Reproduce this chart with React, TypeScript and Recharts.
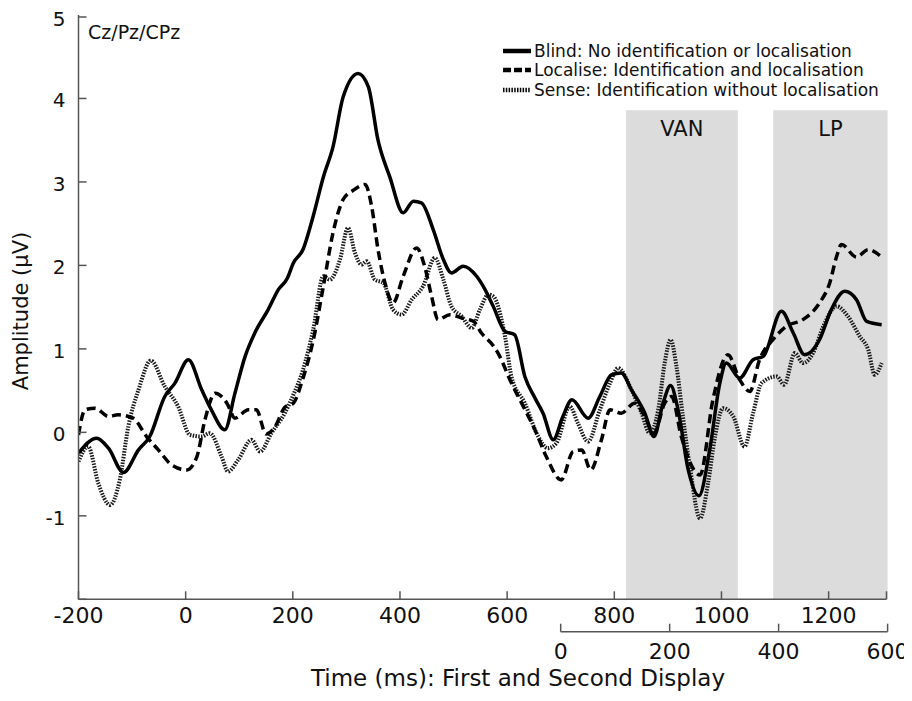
import React from "react";
import { LineChart, Line, XAxis, YAxis, ReferenceArea, ReferenceLine, Legend } from "recharts";

// ERP grand averages at Cz/Pz/CPz, time in ms from first display onset
const blindTimes = [-200, -166, -144, -116, -88, -67, -39, -20, 5, 30, 48, 73, 92, 111, 129, 154, 173, 190, 201, 219, 238, 257, 275, 294, 322, 341, 359, 381, 406, 425, 440, 462, 481, 496, 518, 543, 558, 574, 596, 614, 633, 652, 667, 686, 704, 721, 751, 773, 795, 813, 832, 857, 874, 891, 905, 919, 938, 958, 978, 997, 1009, 1034, 1059, 1078, 1112, 1134, 1155, 1183, 1205, 1230, 1252, 1271, 1299];
const blindValues = [-0.25, -0.07, -0.19, -0.48, -0.21, -0.05, 0.43, 0.59, 0.87, 0.51, 0.27, 0.03, 0.47, 0.91, 1.19, 1.47, 1.71, 1.85, 2.03, 2.19, 2.59, 3.06, 3.42, 4.02, 4.3, 4.14, 3.5, 3.06, 2.63, 2.77, 2.75, 2.43, 2.07, 1.91, 1.99, 1.87, 1.72, 1.51, 1.21, 1.17, 0.67, 0.41, 0.23, -0.09, 0.19, 0.39, 0.17, 0.43, 0.69, 0.71, 0.51, 0.23, -0.05, 0.35, 0.56, 0.27, -0.45, -0.76, -0.21, 0.59, 0.83, 0.65, 0.87, 0.91, 1.45, 1.19, 0.93, 1.11, 1.47, 1.69, 1.59, 1.33, 1.29];

const localiseTimes = [-200, -188, -169, -144, -126, -98, -73, -51, -26, 2, 21, 36, 55, 77, 92, 117, 132, 150, 167, 185, 201, 219, 238, 257, 275, 294, 313, 335, 347, 359, 372, 387, 406, 431, 446, 459, 471, 493, 515, 537, 552, 575, 583, 608, 627, 652, 673, 701, 723, 739, 756, 776, 792, 813, 838, 857, 874, 894, 907, 925, 960, 984, 1012, 1034, 1053, 1071, 1096, 1121, 1152, 1183, 1202, 1215, 1224, 1252, 1274, 1299];
const localiseValues = [-0.03, 0.27, 0.29, 0.19, 0.21, 0.17, -0.05, -0.21, -0.39, -0.45, -0.29, 0.15, 0.47, 0.35, 0.17, 0.27, 0.27, -0.02, 0.07, 0.3, 0.35, 0.65, 1.1, 1.75, 2.39, 2.79, 2.9, 2.97, 2.71, 2.19, 1.79, 1.55, 1.87, 2.21, 1.99, 1.63, 1.35, 1.41, 1.37, 1.33, 1.19, 1.03, 0.95, 0.59, 0.35, 0.03, -0.29, -0.57, -0.23, -0.21, -0.45, -0.09, 0.27, 0.23, 0.35, 0.19, -0.01, 0.35, 0.43, -0.05, -0.51, 0.39, 0.93, 0.63, 0.49, 0.87, 1.11, 1.27, 1.35, 1.55, 1.79, 2.11, 2.25, 2.1, 2.19, 2.1];

const senseTimes = [-200, -182, -163, -141, -123, -107, -88, -65, -39, -14, 8, 30, 45, 67, 79, 98, 123, 139, 160, 185, 201, 219, 238, 257, 269, 288, 303, 316, 328, 338, 353, 369, 387, 403, 422, 443, 465, 481, 496, 515, 534, 549, 565, 574, 596, 608, 633, 658, 676, 692, 717, 732, 751, 773, 792, 807, 832, 851, 866, 882, 894, 905, 916, 928, 941, 960, 975, 988, 1003, 1022, 1043, 1059, 1075, 1103, 1117, 1137, 1152, 1171, 1190, 1215, 1236, 1258, 1274, 1286, 1299];
const senseValues = [-0.35, -0.17, -0.61, -0.87, -0.57, 0.07, 0.51, 0.86, 0.55, 0.31, -0.03, -0.05, -0.01, -0.29, -0.47, -0.33, -0.09, -0.23, -0.01, 0.23, 0.45, 0.75, 1.23, 1.87, 1.83, 2.07, 2.45, 2.15, 2.01, 2.05, 1.83, 1.79, 1.47, 1.41, 1.59, 1.75, 2.09, 1.83, 1.51, 1.39, 1.25, 1.47, 1.65, 1.63, 1.15, 0.67, 0.35, -0.05, -0.19, -0.13, 0.31, 0.11, -0.11, 0.27, 0.59, 0.77, 0.51, 0.23, -0.01, 0.27, 0.83, 1.11, 0.79, 0.19, -0.41, -1.03, -0.61, -0.05, 0.29, 0.19, -0.17, 0.23, 0.59, 0.67, 0.57, 0.95, 0.83, 0.95, 1.27, 1.51, 1.39, 1.15, 0.99, 0.69, 0.83];

const timeTicks = [-200, 0, 200, 400, 600, 800, 1000, 1200, 1308];
// second display time scale (ms from second display onset)
const secondTicks = [0, 200, 400, 600];
const ampTicks = [-2, -1, 0, 1, 2, 3, 4, 5];

// analysis windows, in ms from second display onset
const windowNames = ["VAN", "LP"];
const windowStart = [120, 390];
const windowEnd = [325, 600];
const windowTop = 3.86;

const SECOND_AXIS_Y = -2.388;
const FONT = "'DejaVu Sans', Verdana, sans-serif";
const AXIS = "#555";

const toPoints = (ts: number[], vs: number[]) => ts.map((t, i) => ({ t, v: vs[i] }));
const blind = toPoints(blindTimes, blindValues);
const localise = toPoints(localiseTimes, localiseValues);
const sense = toPoints(senseTimes, senseValues);
const secondScale = secondTicks.map((s) => ({ s }));

const legendItems = [
  { label: "Blind: No identification or localisation", dash: undefined, w: 4.5 },
  { label: "Localise: Identification and localisation", dash: "8 3", w: 4.5 },
  { label: "Sense: Identification without localisation", dash: "1.5 1.3", w: 4.5 },
];

const TimeTick = (props: any) => {
  const { x, y, payload } = props;
  return (
    <g>
      <line x1={x} x2={x} y1={y} y2={y - 8} stroke={AXIS} strokeWidth={1.5} />
      {payload.value <= 1200 && (
        <text x={x} y={y + 24} textAnchor="middle" fontSize={22} fontFamily={FONT} fill="#111">
          {payload.value}
        </text>
      )}
    </g>
  );
};

const SecondTick = (props: any) => {
  const { x, y, payload } = props;
  return (
    <g>
      <line x1={x} x2={x} y1={y} y2={y - 8} stroke={AXIS} strokeWidth={1.5} />
      <text x={x} y={y + 27} textAnchor="middle" fontSize={22} fontFamily={FONT} fill="#111">
        {payload.value}
      </text>
    </g>
  );
};

const AmpTick = (props: any) => {
  const { x, y, payload } = props;
  return (
    <g>
      <line x1={x} x2={x + 8} y1={y} y2={y} stroke={AXIS} strokeWidth={1.5} />
      {payload.value > -2 && (
        <text x={x - 13} y={y + 9} textAnchor="end" fontSize={20} fontFamily={FONT} fill="#111">
          {payload.value}
        </text>
      )}
    </g>
  );
};

const renderLegend = () => (
  <div style={{ fontFamily: FONT, fontSize: 17, color: "#111" }}>
    {legendItems.map((it) => (
      <div key={it.label} style={{ display: "flex", alignItems: "center", height: 19.5, whiteSpace: "nowrap" }}>
        <svg width={28} height={8} style={{ marginRight: 3 }}>
          <line x1={0} x2={28} y1={4} y2={4} stroke="#000" strokeWidth={it.w} strokeDasharray={it.dash} />
        </svg>
        {it.label}
      </div>
    ))}
  </div>
);

export default function App() {
  return (
    <div style={{ position: "relative", width: 903, height: 684 }}>
      <LineChart width={903} height={684} data={secondScale} margin={{ top: 7, right: 24.5, left: 0, bottom: 20.3 }}>
        {windowNames.map((name, i) => (
          <ReferenceArea
            key={name}
            xAxisId="s"
            x1={windowStart[i]}
            x2={windowEnd[i]}
            y1={-2}
            y2={windowTop}
            fill="#dcdcdc"
            fillOpacity={1}
            stroke="none"
            ifOverflow="visible"
            label={{ value: name, position: "insideTop", offset: 11, fontSize: 21, fontFamily: FONT, fill: "#111" }}
          />
        ))}
        <XAxis
          type="number"
          dataKey="t"
          domain={[-200, 1308]}
          ticks={timeTicks}
          tick={<TimeTick />}
          tickLine={false}
          tickSize={0}
          tickMargin={0}
          height={32.4}
          axisLine={{ stroke: AXIS, strokeWidth: 1.5 }}
          allowDataOverflow
        />
        <XAxis
          xAxisId="s"
          type="number"
          dataKey="s"
          domain={[-885, 598]}
          ticks={secondTicks}
          tick={<SecondTick />}
          tickLine={false}
          tickSize={0}
          tickMargin={0}
          height={40}
          axisLine={false}
          allowDataOverflow
          label={() => (
            <text x={510} y={678} textAnchor="middle" fontSize={23} fontFamily={FONT} fill="#111">
              Time (ms): First and Second Display
            </text>
          )}
        />
        <YAxis
          type="number"
          domain={[-2, 5]}
          ticks={ampTicks}
          tick={<AmpTick />}
          tickLine={false}
          tickSize={0}
          tickMargin={0}
          width={70.5}
          axisLine={{ stroke: AXIS, strokeWidth: 1.5 }}
          allowDataOverflow
          label={() => (
            <text
              x={13}
              y={303}
              transform="rotate(-90 13 303)"
              textAnchor="middle"
              dominantBaseline="central"
              fontSize={21}
              fontFamily={FONT}
              fill="#111"
            >
              Amplitude  (µV)
            </text>
          )}
        />
        <ReferenceLine
          xAxisId="s"
          segment={[
            { x: 0, y: SECOND_AXIS_Y },
            { x: 600, y: SECOND_AXIS_Y },
          ]}
          stroke={AXIS}
          strokeWidth={1.5}
          ifOverflow="visible"
        />
        <Legend
          layout="vertical"
          align="center"
          verticalAlign="middle"
          content={renderLegend}
          wrapperStyle={{ top: 33, left: 495, width: 390 }}
        />
        <Line
          data={sense}
          dataKey="v"
          name="Sense"
          type="monotone"
          stroke="#1a1a1a"
          strokeWidth={4}
          strokeDasharray="1.5 1.3"
          dot={false}
          activeDot={false}
          isAnimationActive={false}
        />
        <Line
          data={localise}
          dataKey="v"
          name="Localise"
          type="monotone"
          stroke="#000"
          strokeWidth={3.5}
          strokeDasharray="9 5"
          dot={false}
          activeDot={false}
          isAnimationActive={false}
        />
        <Line
          data={blind}
          dataKey="v"
          name="Blind"
          type="monotone"
          stroke="#000"
          strokeWidth={3.5}
          dot={false}
          activeDot={false}
          isAnimationActive={false}
        />
      </LineChart>
      <div
        style={{
          position: "absolute",
          left: 80,
          top: 14.6,
          fontFamily: FONT,
          fontSize: 19,
          lineHeight: "19px",
          color: "#111",
        }}
      >
        Cz/Pz/CPz
      </div>
    </div>
  );
}
